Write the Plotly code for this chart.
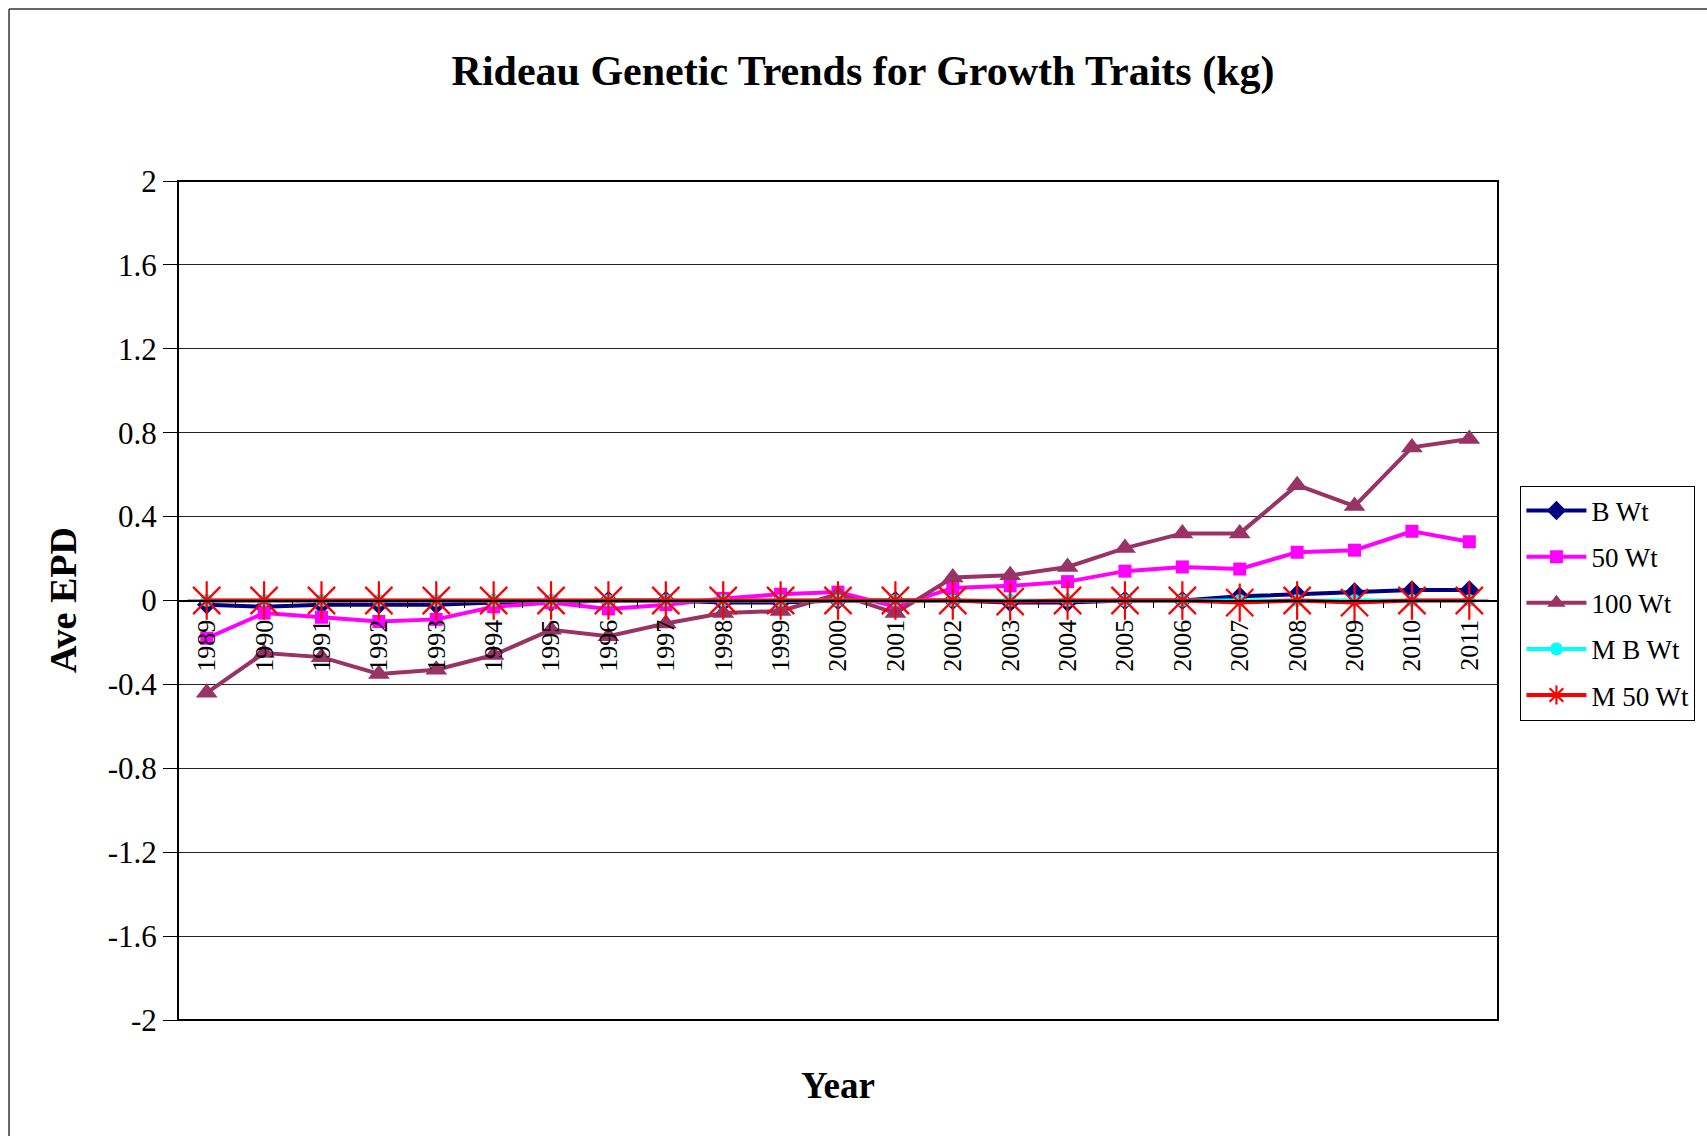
import plotly.graph_objects as go

years = [str(y) for y in range(1989, 2012)]

b_wt = [-0.02, -0.03, -0.02, -0.02, -0.02, -0.01, -0.01, 0.0, 0.0, -0.01, -0.01, 0.0,
        0.0, 0.0, -0.01, -0.01, 0.0, 0.0, 0.02, 0.03, 0.04, 0.05, 0.05]
wt_50 = [-0.18, -0.06, -0.08, -0.10, -0.09, -0.03, -0.01, -0.04, -0.02, 0.01, 0.03, 0.04,
         -0.03, 0.06, 0.07, 0.09, 0.14, 0.16, 0.15, 0.23, 0.24, 0.33, 0.28]
wt_100 = [-0.44, -0.25, -0.27, -0.35, -0.33, -0.26, -0.14, -0.17, -0.11, -0.06, -0.05, 0.03,
          -0.06, 0.11, 0.12, 0.16, 0.25, 0.32, 0.32, 0.55, 0.45, 0.73, 0.77]
m_b_wt = [0.0] * 23
m_50_wt = [0.0, 0.0, 0.0, 0.0, 0.0, 0.0, 0.0, 0.0, 0.0, 0.0, 0.0, 0.0,
           0.0, 0.0, -0.005, 0.0, 0.0, 0.0, -0.01, 0.0, -0.01, 0.0, 0.0]

y_ticks = [-2, -1.6, -1.2, -0.8, -0.4, 0, 0.4, 0.8, 1.2, 1.6, 2]
y_tick_text = ["-2", "-1.6", "-1.2", "-0.8", "-0.4", "0", "0.4", "0.8", "1.2", "1.6", "2"]

FONT = "Liberation Serif"

series = [
    ("B Wt", b_wt, "#000080", dict(symbol="diamond", size=15)),
    ("50 Wt", wt_50, "#FF00FF", dict(symbol="square", size=13)),
    ("100 Wt", wt_100, "#993366", dict(symbol="triangle-up", size=19)),
    ("M B Wt", m_b_wt, "#00FFFF", dict(symbol="circle", size=13)),
    ("M 50 Wt", m_50_wt, "#FF0000", dict(symbol="asterisk-open", size=32,
                                        line=dict(color="#FF0000", width=2.2))),
]

fig = go.Figure()
for name, vals, color, marker in series:
    mk = dict(color=color)
    mk.update(marker)
    fig.add_trace(go.Scatter(
        x=years, y=vals, name=name, mode="lines+markers", legendgroup=name,
        line=dict(color=color, width=4), marker=mk,
    ))

fig.update_layout(
    width=1707, height=1136,
    margin=dict(l=178, r=207, t=181, b=116),
    paper_bgcolor="white", plot_bgcolor="white",
    font=dict(family=FONT, color="black"),
    title=dict(text="<b>Rideau Genetic Trends for Growth Traits (kg)</b>",
               font=dict(size=42, family=FONT), x=0.5056, xanchor="center",
               y=0.938, yanchor="middle"),
    showlegend=True,
    legend=dict(x=1.017, y=0.637, xanchor="left", yanchor="top",
                bordercolor="black", borderwidth=1, bgcolor="white",
                font=dict(size=27, family=FONT), tracegroupgap=8,
                itemwidth=60),
    xaxis=dict(type="category", anchor="free", position=0.5,
               showline=True, linecolor="black", linewidth=1.5,
               ticks="outside", ticklen=7, tickcolor="black", tickson="boundaries",
               tickangle=-90, tickfont=dict(size=26, family=FONT),
               ticklabelstandoff=8,
               showgrid=False, range=[-0.5, 22.5]),
    yaxis=dict(range=[-2, 2], tickvals=y_ticks, ticktext=y_tick_text,
               ticks="outside", ticklen=14, tickcolor="black",
               tickfont=dict(size=31, family=FONT),
               showgrid=True, gridcolor="#222222", gridwidth=1,
               zeroline=False, showline=False),
    shapes=[
        dict(type="rect", xref="paper", yref="paper", x0=0, x1=1, y0=0, y1=1,
             line=dict(color="black", width=2), layer="above"),
        dict(type="line", xref="paper", yref="paper", x0=-0.128, x1=-0.128,
             y0=-0.2, y1=1.205, line=dict(color="#333333", width=1.5)),
        dict(type="line", xref="paper", yref="paper", x0=-0.128, x1=1.2,
             y0=1.205, y1=1.205, line=dict(color="#333333", width=1.5)),
    ],
    annotations=[
        dict(text="<b>Year</b>", xref="paper", yref="paper", x=0.5, y=-0.078,
             showarrow=False, font=dict(size=37, family=FONT),
             xanchor="center", yanchor="middle"),
        dict(text="<b>Ave EPD</b>", xref="paper", yref="paper", x=-0.0875, y=0.5,
             showarrow=False, textangle=-90, font=dict(size=38, family=FONT),
             xanchor="center", yanchor="middle"),
    ],
)

fig.write_html("out.html")
